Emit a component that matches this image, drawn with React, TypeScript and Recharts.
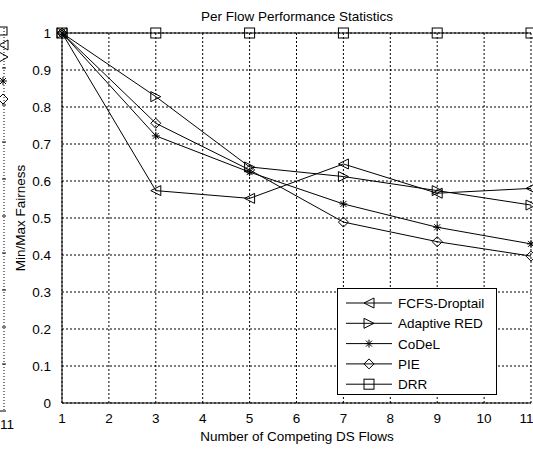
import React from "react";
import { LineChart, Line, XAxis, YAxis, CartesianGrid, Customized } from "recharts";

const flows = [1, 3, 5, 7, 9, 11];
const fcfsDroptail = [1, 0.574, 0.553, 0.646, 0.567, 0.58];
const adaptiveRed = [1, 0.828, 0.638, 0.612, 0.574, 0.535];
const codel = [1, 0.722, 0.624, 0.538, 0.475, 0.43];
const pie = [1, 0.756, 0.63, 0.489, 0.436, 0.397];
const drr = [1, 1, 1, 1, 1, 1];

const xTicks = [1, 2, 3, 4, 5, 6, 7, 8, 9, 10, 11];
const yTicks = [0, 0.1, 0.2, 0.3, 0.4, 0.5, 0.6, 0.7, 0.8, 0.9, 1];

const data = flows.map((f, i) => ({
  flows: f,
  fcfs: fcfsDroptail[i],
  ared: adaptiveRed[i],
  codel: codel[i],
  pie: pie[i],
  drr: drr[i],
}));

const FONT = "'Liberation Sans', Arial, sans-serif";
const FS = 13.5;

type Shape = "left" | "right" | "star" | "diamond" | "square";

function Marker({ cx, cy, shape }: { cx: number; cy: number; shape: Shape }) {
  const s = 5;
  const common = { stroke: "#000", strokeWidth: 1, fill: "none" };
  if (shape === "left")
    return <polygon points={`${cx - s},${cy} ${cx + s},${cy - s} ${cx + s},${cy + s}`} {...common} />;
  if (shape === "right")
    return <polygon points={`${cx + s},${cy} ${cx - s},${cy - s} ${cx - s},${cy + s}`} {...common} />;
  if (shape === "diamond")
    return <polygon points={`${cx},${cy - s} ${cx + s},${cy} ${cx},${cy + s} ${cx - s},${cy}`} {...common} />;
  if (shape === "square") return <rect x={cx - 5} y={cy - 5} width={10} height={10} {...common} />;
  const r = 4;
  return (
    <g {...common}>
      <line x1={cx - r} y1={cy} x2={cx + r} y2={cy} />
      <line x1={cx} y1={cy - r} x2={cx} y2={cy + r} />
      <line x1={cx - 3} y1={cy - 3} x2={cx + 3} y2={cy + 3} />
      <line x1={cx - 3} y1={cy + 3} x2={cx + 3} y2={cy - 3} />
    </g>
  );
}

const seriesList: { key: string; name: string; shape: Shape }[] = [
  { key: "fcfs", name: "FCFS-Droptail", shape: "left" },
  { key: "ared", name: "Adaptive RED", shape: "right" },
  { key: "codel", name: "CoDeL", shape: "star" },
  { key: "pie", name: "PIE", shape: "diamond" },
  { key: "drr", name: "DRR", shape: "square" },
];

function LegendBox() {
  return (
    <svg width={161} height={108} style={{ display: "block" }}>
      <rect x={0.5} y={0.5} width={159} height={106} fill="#fff" stroke="#000" />
      {seriesList.map((s, i) => {
        const y = 15 + i * 20.3;
        return (
          <g key={s.key}>
            <line x1={9} y1={y} x2={55} y2={y} stroke="#000" />
            <Marker cx={32} cy={y} shape={s.shape} />
            <text x={61} y={y + 5} fontFamily={FONT} fontSize={FS} fill="#000">
              {s.name}
            </text>
          </g>
        );
      })}
    </svg>
  );
}

// sliver of the neighbouring subplot on the left edge
function LeftSliver() {
  const ys = [68, 105, 142, 179, 216, 253, 290, 327, 364];
  return (
    <g>
      <line x1={4} y1={28} x2={4} y2={411} stroke="#000" strokeDasharray="1 2" />
      {ys.map((y) => (
        <line key={y} x1={2} y1={y} x2={6} y2={y} stroke="#000" />
      ))}
      <line x1={0} y1={411} x2={6} y2={411} stroke="#000" />
      <text x={0} y={429} textAnchor="start" fontFamily={FONT} fontSize={FS} fill="#000">11</text>
      <rect x={-2} y={27} width={9} height={8} fill="none" stroke="#000" />
      <polygon points="-1,45 8,40 8,50" fill="none" stroke="#000" />
      <polygon points="8,57 -1,52 -1,62" fill="none" stroke="#000" />
      <Marker cx={3} cy={81} shape="star" />
      <Marker cx={3} cy={99} shape="diamond" />
    </g>
  );
}

export default function App() {
  return (
    <div style={{ position: "absolute", left: 0, top: 0, width: 533, height: 452, background: "#fff" }}>
      <LineChart width={533} height={452} data={data} margin={{ top: 33, right: 2, bottom: 19, left: 22 }}>
        <CartesianGrid stroke="#000" strokeDasharray="2 2" />
        <XAxis
          dataKey="flows"
          type="number"
          domain={[1, 11]}
          ticks={xTicks}
          height={30}
          axisLine={{ stroke: "#000" }}
          tickLine={false}
          tick={{ fill: "#000", fontSize: FS, fontFamily: FONT }}
          tickMargin={4}
        />
        <YAxis
          type="number"
          domain={[0, 1]}
          ticks={yTicks}
          width={40}
          axisLine={{ stroke: "#000" }}
          tickLine={false}
          tick={{ fill: "#000", fontSize: FS, fontFamily: FONT }}
          tickMargin={5}
          tickFormatter={(v: number) => (v === 0 ? "0" : v === 1 ? "1" : v.toFixed(1))}
        />
        {seriesList.map((s) => (
          <Line
            key={s.key}
            dataKey={s.key}
            name={s.name}
            stroke="#000"
            strokeWidth={1}
            type="linear"
            isAnimationActive={false}
            dot={(p: any) => <Marker key={`${s.key}-${p.index}`} cx={p.cx} cy={p.cy} shape={s.shape} />}
            activeDot={false}
          />
        ))}
        <Customized component={() => (
          <g fontFamily={FONT} fontSize={FS} fill="#000">
            <text x={297} y={21} textAnchor="middle">Per Flow Performance Statistics</text>
            <text x={297} y={441} textAnchor="middle">Number of Competing DS Flows</text>
            <text x={25} y={218} textAnchor="middle" transform="rotate(-90 25 218)">Min/Max Fairness</text>
            <LeftSliver />
          </g>
        )} />
      </LineChart>
      <div style={{ position: "absolute", left: 337, top: 288 }}>
        <LegendBox />
      </div>
    </div>
  );
}
